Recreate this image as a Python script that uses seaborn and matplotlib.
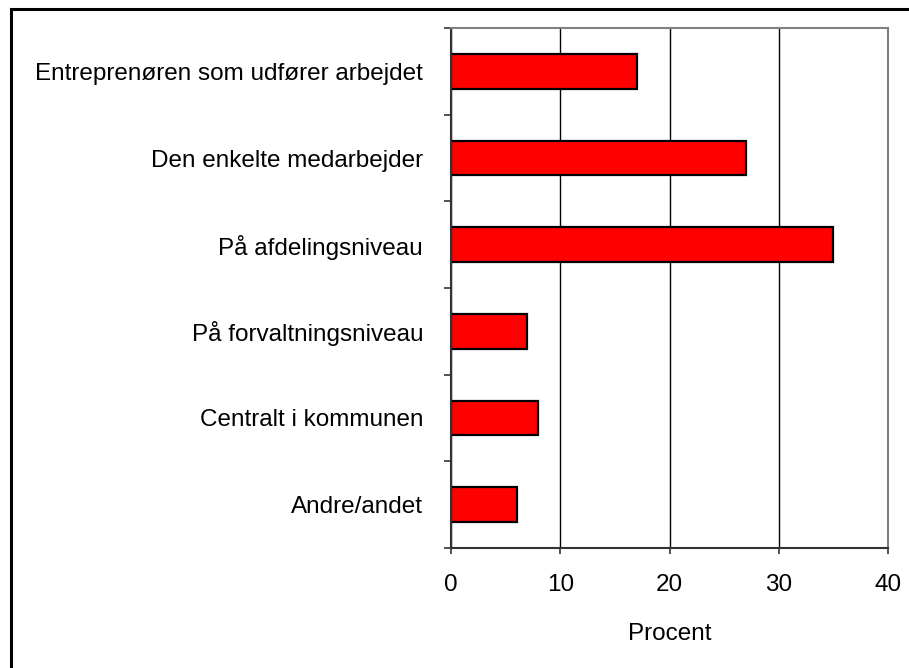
import matplotlib
matplotlib.use("Agg")
import matplotlib.pyplot as plt
import seaborn as sns
import pandas as pd
import numpy as np
from matplotlib.patches import Rectangle

categories = [
    "Entreprenøren som udfører arbejdet",
    "Den enkelte medarbejder",
    "På afdelingsniveau",
    "På forvaltningsniveau",
    "Centralt i kommunen",
    "Andre/andet",
]
values = [17, 27, 35, 7, 8, 6]
xticks = [0, 10, 20, 30, 40]
xlabel = "Procent"

sns.set_theme(style="white")
plt.rcParams["font.family"] = ["Liberation Sans", "DejaVu Sans"]
plt.rcParams["text.color"] = "black"
plt.rcParams["axes.labelcolor"] = "black"
plt.rcParams["xtick.color"] = "black"
plt.rcParams["ytick.color"] = "black"

df = pd.DataFrame({"cat": categories, "val": values})

fig = plt.figure(figsize=(9.09, 6.68), dpi=100)
ax = fig.add_axes([451 / 909, (668 - 548) / 668, 437 / 909, 520 / 668])

sns.barplot(data=df, x="val", y="cat", orient="h", color="#FF0000",
            edgecolor="black", linewidth=1.6, width=0.4, saturation=1, ax=ax)

ax.set_xlim(0, 40)
ax.set_ylim(len(categories) - 0.5, -0.5)
ax.set_xticks(xticks)
ax.set_xticklabels([str(t) for t in xticks], fontsize=17.5, color="black")
ax.set_yticklabels(categories, fontsize=17.5, color="black")
ax.set_ylabel("")
ax.set_xlabel(xlabel, fontsize=17.5, labelpad=20, color="black")

ax.set_axisbelow(True)
ax.xaxis.grid(True, color="black", linewidth=1.0)
ax.yaxis.grid(False)

ax.set_yticks(np.arange(-0.5, len(categories), 1.0), minor=True)
ax.tick_params(axis="y", which="major", length=0, pad=28 * 0.72)
ax.tick_params(axis="y", which="minor", length=5, width=1.2, color="#333333", left=True)
ax.tick_params(axis="x", which="major", length=4.5, width=1.2, color="#333333",
               bottom=True, pad=14)

for side in ["left", "bottom"]:
    ax.spines[side].set_color("#333333")
    ax.spines[side].set_linewidth(1.5)
for side in ["top", "right"]:
    ax.spines[side].set_color("#808080")
    ax.spines[side].set_linewidth(1.5)
    ax.spines[side].set_visible(True)

# outer frame (left and top edges visible, continuing past the figure edge)
fig.patches.append(Rectangle((10.5 / 909, -0.05), 1.2, (668 - 9) / 668 + 0.05,
                             transform=fig.transFigure, fill=False,
                             edgecolor="black", linewidth=2.2, zorder=0))

fig.savefig("out.png", dpi=100, facecolor="white")
